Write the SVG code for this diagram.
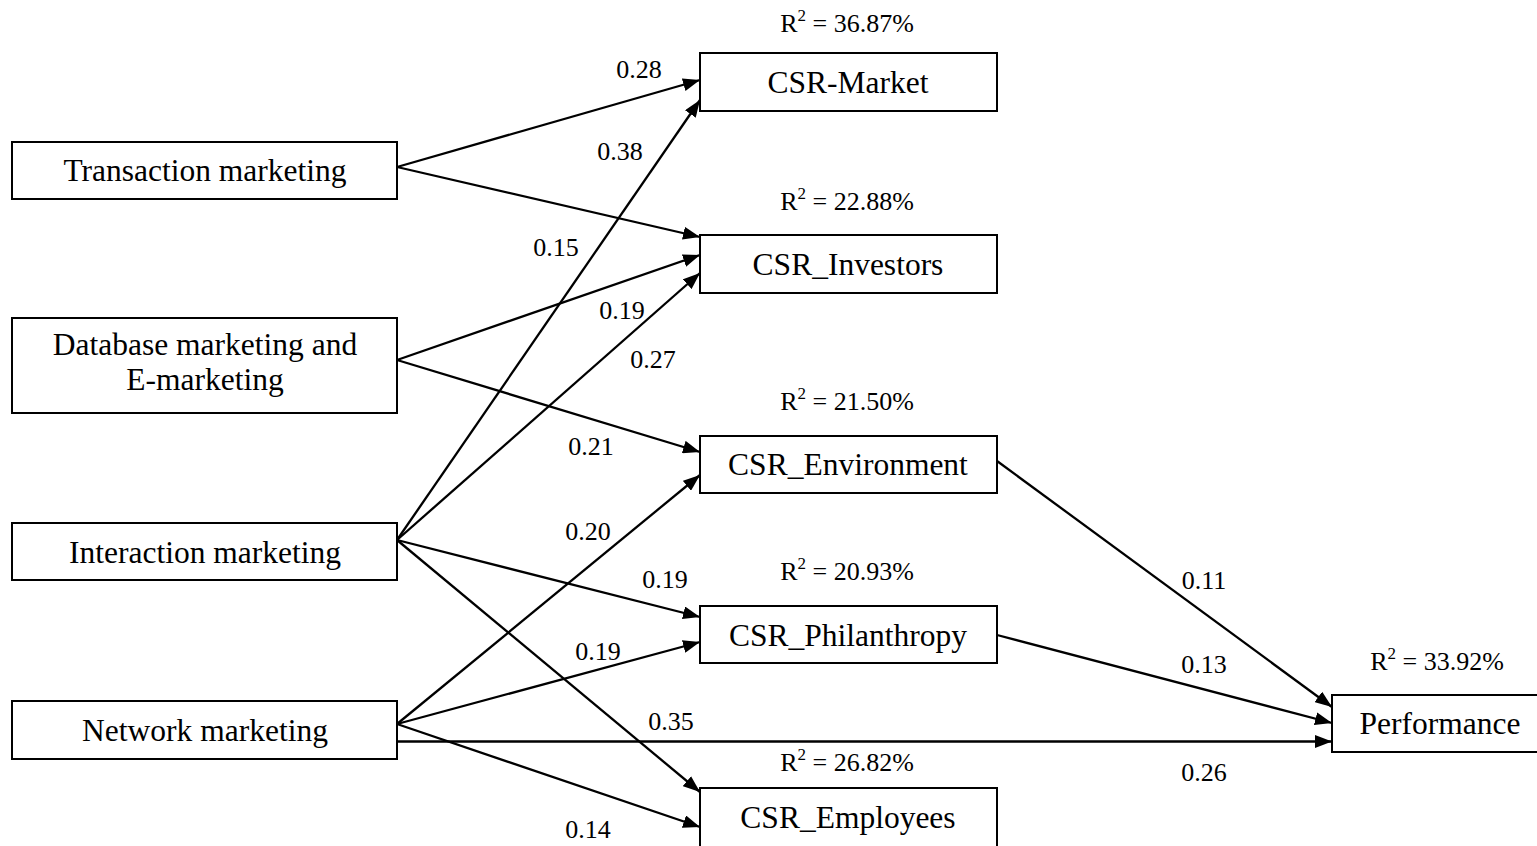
<svg xmlns="http://www.w3.org/2000/svg" width="1537" height="846" viewBox="0 0 1537 846">
<style>
.box{fill:#fff;stroke:#000;stroke-width:2}
.nt{font-family:"Liberation Serif","Times New Roman",serif;font-size:31.5px;text-anchor:middle;fill:#000}
.lb{font-family:"Liberation Serif","Times New Roman",serif;font-size:26px;text-anchor:middle;fill:#000}
.sup{font-size:17px}
.c{stroke:#000;stroke-width:2.3;fill:none;marker-end:url(#ah)}
</style>
<defs>
<marker id="ah" markerUnits="userSpaceOnUse" markerWidth="18" markerHeight="13" refX="17" refY="6.5" orient="auto">
<path d="M0,0 L17,6.5 L0,13 z" fill="#000"/>
</marker>
</defs>
<rect width="1537" height="846" fill="#fff"/>
<g id="connectors">
<line class="c" x1="397" y1="167" x2="700" y2="80"/>
<line class="c" x1="397" y1="167" x2="700" y2="237"/>
<line class="c" x1="397" y1="360" x2="700" y2="255"/>
<line class="c" x1="397" y1="360" x2="700" y2="452"/>
<line class="c" x1="397" y1="540" x2="700" y2="100"/>
<line class="c" x1="397" y1="540" x2="700" y2="273"/>
<line class="c" x1="397" y1="540" x2="700" y2="617"/>
<line class="c" x1="397" y1="540" x2="700" y2="792"/>
<line class="c" x1="397" y1="724" x2="700" y2="475"/>
<line class="c" x1="397" y1="724" x2="700" y2="642"/>
<line class="c" x1="397" y1="724" x2="700" y2="827"/>
<line class="c" x1="397" y1="741.5" x2="1332" y2="741.5"/>
<line class="c" x1="997" y1="461" x2="1332" y2="707"/>
<line class="c" x1="997" y1="635" x2="1332" y2="723"/>
</g>
<g id="edge-labels">
<text class="lb" x="639" y="78">0.28</text>
<text class="lb" x="620" y="160">0.38</text>
<text class="lb" x="556" y="256">0.15</text>
<text class="lb" x="622" y="319">0.19</text>
<text class="lb" x="653" y="368">0.27</text>
<text class="lb" x="591" y="455">0.21</text>
<text class="lb" x="588" y="540">0.20</text>
<text class="lb" x="665" y="588">0.19</text>
<text class="lb" x="598" y="660">0.19</text>
<text class="lb" x="671" y="730">0.35</text>
<text class="lb" x="588" y="838">0.14</text>
<text class="lb" x="1204" y="589">0.11</text>
<text class="lb" x="1204" y="673">0.13</text>
<text class="lb" x="1204" y="781">0.26</text>
</g>
<g id="node-transaction">
<rect class="box" x="12" y="142" width="385" height="57"/>
<text class="nt" x="205" y="181">Transaction marketing</text>
</g>
<g id="node-database">
<rect class="box" x="12" y="318" width="385" height="95"/>
<text class="nt" x="205" y="355">Database marketing and</text>
<text class="nt" x="205" y="390">E-marketing</text>
</g>
<g id="node-interaction">
<rect class="box" x="12" y="523" width="385" height="57"/>
<text class="nt" x="205" y="563">Interaction marketing</text>
</g>
<g id="node-network">
<rect class="box" x="12" y="701" width="385" height="58"/>
<text class="nt" x="205" y="741">Network marketing</text>
</g>
<g id="node-market">
<rect class="box" x="700" y="53" width="297" height="58"/>
<text class="nt" x="848" y="93">CSR-Market</text>
<text class="lb" x="847" y="32">R<tspan class="sup" dy="-11">2</tspan><tspan dy="11"> = 36.87%</tspan></text>
</g>
<g id="node-investors">
<rect class="box" x="700" y="235" width="297" height="58"/>
<text class="nt" x="848" y="275">CSR_Investors</text>
<text class="lb" x="847" y="210">R<tspan class="sup" dy="-11">2</tspan><tspan dy="11"> = 22.88%</tspan></text>
</g>
<g id="node-environment">
<rect class="box" x="700" y="436" width="297" height="57"/>
<text class="nt" x="848" y="475">CSR_Environment</text>
<text class="lb" x="847" y="410">R<tspan class="sup" dy="-11">2</tspan><tspan dy="11"> = 21.50%</tspan></text>
</g>
<g id="node-philanthropy">
<rect class="box" x="700" y="606" width="297" height="57"/>
<text class="nt" x="848" y="646">CSR_Philanthropy</text>
<text class="lb" x="847" y="580">R<tspan class="sup" dy="-11">2</tspan><tspan dy="11"> = 20.93%</tspan></text>
</g>
<g id="node-employees">
<rect class="box" x="700" y="788" width="297" height="62"/>
<text class="nt" x="848" y="828">CSR_Employees</text>
<text class="lb" x="847" y="771">R<tspan class="sup" dy="-11">2</tspan><tspan dy="11"> = 26.82%</tspan></text>
</g>
<g id="node-performance">
<rect class="box" x="1332" y="695" width="215" height="57"/>
<text class="nt" x="1440" y="734">Performance</text>
<text class="lb" x="1437" y="670">R<tspan class="sup" dy="-11">2</tspan><tspan dy="11"> = 33.92%</tspan></text>
</g>
</svg>
